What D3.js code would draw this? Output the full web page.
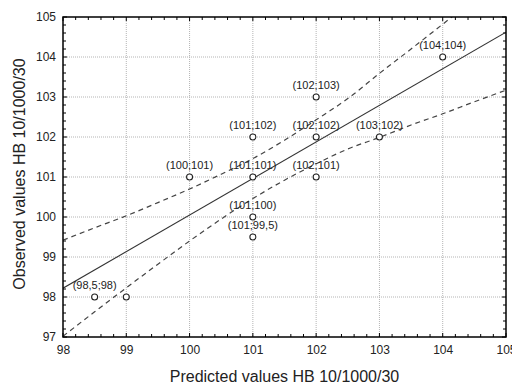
<!DOCTYPE html>
<html>
<head>
<meta charset="utf-8">
<script src="https://cdn.jsdelivr.net/npm/d3@7"></script>
<style>
body { margin: 0; background: #fff; }
svg { display: block; font-family: "Liberation Sans", Arial, sans-serif; }
</style>
</head>
<body>
<svg width="512" height="386"></svg>
<script>
// observed points (predicted, observed) and their labels
var predicted = [98.5, 99, 100, 101, 101, 101, 101, 102, 102, 102, 103, 104];
var observed  = [98, 98, 101, 102, 101, 100, 99.5, 103, 102, 101, 102, 104];
var labels    = ["(98,5;98)", "", "(100;101)", "(101;102)", "(101;101)", "(101;100)", "(101;99,5)",
                 "(102;103)", "(102;102)", "(102;101)", "(103;102)", "(104;104)"];

// fitted line, read at the ends
var fitX = [98, 105];
var fitY = [98.22, 104.62];

// confidence band
var bandX     = [98, 98.5, 99, 99.5, 100, 100.5, 101, 101.5, 102, 102.5, 103, 103.5, 104, 104.5, 105];
var bandUpper = [99.42, 99.73, 100.03, 100.36, 100.70, 101.07, 101.46, 101.92, 102.43, 102.96, 103.59, 104.20, 104.82, 105.44, 106.07];
var bandLower = [97.02, 97.63, 98.23, 98.82, 99.40, 99.95, 100.46, 100.92, 101.33, 101.70, 101.99, 102.30, 102.58, 102.88, 103.17];

var xTicks = [98, 99, 100, 101, 102, 103, 104, 105];
var yTicks = [97, 98, 99, 100, 101, 102, 103, 104, 105];

var svg = d3.select("svg"),
    margin = {top: 17, right: 6, bottom: 49, left: 63},
    width = +svg.attr("width") - margin.left - margin.right,
    height = +svg.attr("height") - margin.top - margin.bottom;

var x = d3.scaleLinear().domain([98, 105]).range([0, width]);
var y = d3.scaleLinear().domain([97, 105]).range([height, 0]);

var g = svg.append("g").attr("transform", "translate(" + margin.left + "," + margin.top + ")");

svg.append("defs").append("clipPath").attr("id", "plot")
  .append("rect").attr("width", width).attr("height", height);

// grid
g.append("g").selectAll("line").data(xTicks.slice(1, -1)).enter().append("line")
    .attr("x1", d => x(d)).attr("x2", d => x(d))
    .attr("y1", 0).attr("y2", height)
    .attr("stroke", "#b4b4b4").attr("stroke-dasharray", "1,1");
g.append("g").selectAll("line").data(yTicks.slice(1, -1)).enter().append("line")
    .attr("y1", d => y(d)).attr("y2", d => y(d))
    .attr("x1", 0).attr("x2", width)
    .attr("stroke", "#b4b4b4").attr("stroke-dasharray", "1,1");

// minor ticks inside on all four sides
var xMinor = x.ticks(28), yMinor = y.ticks(32);
var tk = g.append("g").attr("stroke", "#000").attr("stroke-width", 1);
xMinor.forEach(function(v) {
  var len = xTicks.indexOf(v) >= 0 ? 4 : 3;
  tk.append("line").attr("x1", x(v)).attr("x2", x(v)).attr("y1", height).attr("y2", height - len);
  tk.append("line").attr("x1", x(v)).attr("x2", x(v)).attr("y1", 0).attr("y2", len);
});
yMinor.forEach(function(v) {
  var len = yTicks.indexOf(v) >= 0 ? 4 : 3;
  tk.append("line").attr("y1", y(v)).attr("y2", y(v)).attr("x1", 0).attr("x2", len);
  tk.append("line").attr("y1", y(v)).attr("y2", y(v)).attr("x1", width).attr("x2", width - len);
});

// axes labels
var xAxis = g.append("g").attr("transform", "translate(0," + height + ")")
    .call(d3.axisBottom(x).tickValues(xTicks).tickSize(0).tickPadding(8).tickFormat(d3.format("d")));
var yAxis = g.append("g")
    .call(d3.axisLeft(y).tickValues(yTicks).tickSize(0).tickPadding(7).tickFormat(d3.format("d")));
[xAxis, yAxis].forEach(function(a) {
  a.select(".domain").remove();
  a.selectAll("text").attr("font-size", 12).attr("fill", "#222")
    .attr("font-family", "Liberation Sans, Arial, sans-serif");
});

var lines = g.append("g").attr("clip-path", "url(#plot)");

var line = d3.line().x(d => x(d[0])).y(d => y(d[1]));

lines.append("path").datum(d3.zip(fitX, fitY))
    .attr("d", line).attr("fill", "none").attr("stroke", "#333").attr("stroke-width", 1.1);

var curve = d3.line().x(d => x(d[0])).y(d => y(d[1])).curve(d3.curveMonotoneX);
[bandUpper, bandLower].forEach(function(b) {
  lines.append("path").datum(d3.zip(bandX, b))
      .attr("d", curve).attr("fill", "none").attr("stroke", "#444")
      .attr("stroke-width", 1.2).attr("stroke-dasharray", "5,4");
});

// points
var pts = d3.zip(predicted, observed, labels);
g.append("g").selectAll("circle").data(pts).enter().append("circle")
    .attr("cx", d => x(d[0])).attr("cy", d => y(d[1])).attr("r", 3)
    .attr("fill", "#fff").attr("stroke", "#222").attr("stroke-width", 1.1);

g.append("g").selectAll("text").data(pts).enter().append("text")
    .attr("x", d => x(d[0])).attr("y", d => y(d[1]) - 8)
    .attr("text-anchor", "middle").attr("font-size", 11).attr("fill", "#222")
    .text(d => d[2]);

// frame
g.append("rect").attr("width", width).attr("height", height)
    .attr("fill", "none").attr("stroke", "#000").attr("stroke-width", 1.5);

// titles
svg.append("text").attr("x", margin.left + width / 2).attr("y", 382)
    .attr("text-anchor", "middle").attr("font-size", 16).attr("fill", "#222")
    .text("Predicted values HB 10/1000/30");
svg.append("text").attr("transform", "translate(25,174) rotate(-90)")
    .attr("text-anchor", "middle").attr("font-size", 16).attr("fill", "#222")
    .text("Observed values HB 10/1000/30");
</script>
</body>
</html>
